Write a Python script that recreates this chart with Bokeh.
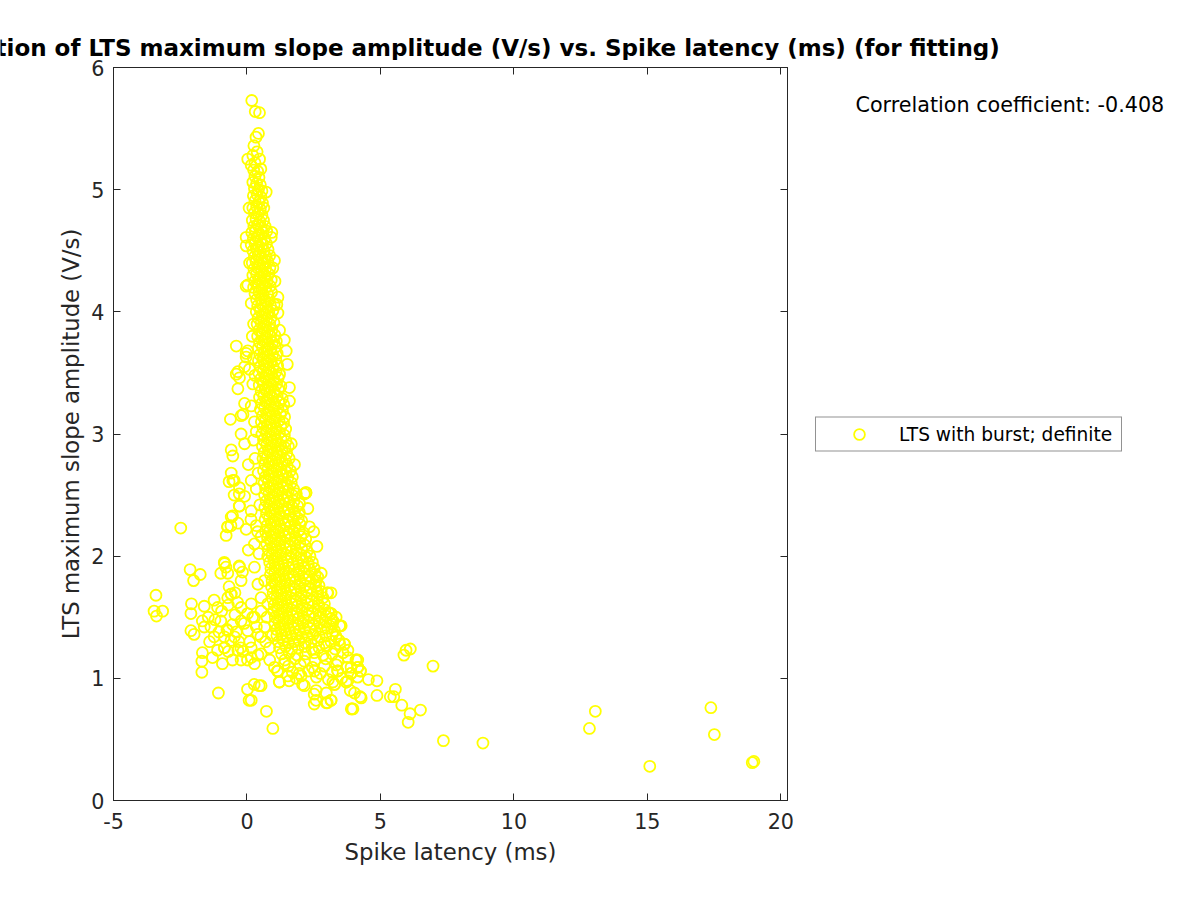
from bokeh.plotting import figure
from bokeh.layouts import column, row
from bokeh.models import (Range1d, LinearAxis, FixedTicker, Label, Legend, LegendItem,
                          ColumnDataSource)
from bokeh.embed import file_html
from bokeh.resources import INLINE

title_text = "Correlation of LTS maximum slope amplitude (V/s) vs. Spike latency (ms) (for fitting)"
x_label = "Spike latency (ms)"
y_label = "LTS maximum slope amplitude (V/s)"
series_name = "LTS with burst; definite"
corr_text = "Correlation coefficient: -0.408"
x_ticks = [-5, 0, 5, 10, 15, 20]
x_tick_labels = {-5: "-5", 0: "0", 5: "5", 10: "10", 15: "15", 20: "20"}
y_ticks = [0, 1, 2, 3, 4, 5, 6]

# (spike latency ms, LTS max slope V/s)
ridge_top = [
    (0.18, 5.73), (0.31, 5.64), (0.47, 5.63), (0.43, 5.46), (0.34, 5.43), (0.26, 5.36),
    (0.03, 5.25), (0.47, 5.25), (0.16, 5.20), (0.30, 5.22), (0.38, 5.31), (0.22, 5.28),
]

ridge_upper = [
    (0.25, 5.16), (0.40, 5.15), (0.52, 5.17),
    (0.30, 5.11), (0.45, 5.10),
    (0.22, 5.06), (0.36, 5.05), (0.50, 5.04),
    (0.28, 5.01), (0.43, 5.00), (0.56, 4.99),
    (0.24, 4.95), (0.38, 4.96), (0.52, 4.94),
    (0.30, 4.91), (0.45, 4.90), (0.58, 4.89),
    (0.22, 4.85), (0.36, 4.86), (0.50, 4.84), (0.63, 4.85),
    (0.28, 4.81), (0.42, 4.80), (0.56, 4.79),
    (0.20, 4.75), (0.34, 4.76), (0.48, 4.74), (0.62, 4.75),
    (0.26, 4.70), (0.40, 4.71), (0.54, 4.69), (0.68, 4.70),
    (0.18, 4.65), (0.32, 4.66), (0.46, 4.64), (0.60, 4.65), (0.74, 4.66),
    (0.24, 4.60), (0.38, 4.61), (0.52, 4.59), (0.67, 4.60),
    (0.16, 4.55), (0.30, 4.56), (0.44, 4.54), (0.58, 4.55), (0.73, 4.56),
    (0.22, 4.50), (0.36, 4.51), (0.50, 4.49), (0.64, 4.50), (0.79, 4.51),
    (0.28, 4.45), (0.42, 4.46), (0.56, 4.44), (0.71, 4.45), (0.85, 4.46),
    (0.20, 4.40), (0.34, 4.41), (0.48, 4.39), (0.63, 4.40), (0.78, 4.41),
    (0.26, 4.35), (0.40, 4.36), (0.55, 4.34), (0.70, 4.35), (0.86, 4.36),
    (0.22, 4.30), (0.36, 4.31), (0.51, 4.29), (0.66, 4.30), (0.82, 4.31),
    (0.29, 4.25), (0.44, 4.26), (0.59, 4.24), (0.75, 4.25), (0.91, 4.26),
    (0.25, 4.20), (0.40, 4.21), (0.55, 4.19), (0.71, 4.20), (0.87, 4.21),
]

upper_halo = [
    (0.93, 4.65), (0.91, 4.61), (1.03, 4.42), (0.97, 4.36), (1.16, 4.12), (1.16, 3.99),
    (-0.03, 4.61), (-0.03, 4.54), (-0.03, 4.21), (0.16, 4.07), (0.03, 4.22), (0.08, 4.85),
    (0.72, 4.98), (0.10, 4.40), (1.05, 4.25),
]

ridge_mid = [
    (0.30, 4.15), (0.45, 4.16), (0.61, 4.14), (0.77, 4.15), (0.92, 4.16),
    (0.36, 4.10), (0.52, 4.11), (0.68, 4.09), (0.84, 4.10),
    (0.40, 4.05), (0.55, 4.06), (0.71, 4.04), (0.88, 4.05), (1.02, 4.06),
    (0.35, 4.00), (0.50, 4.01), (0.66, 3.99), (0.82, 4.00), (0.97, 4.01),
    (0.42, 3.95), (0.58, 3.96), (0.74, 3.94), (0.90, 3.95),
    (0.38, 3.90), (0.53, 3.91), (0.69, 3.89), (0.85, 3.90), (1.01, 3.91),
    (0.45, 3.85), (0.61, 3.86), (0.77, 3.84), (0.93, 3.85),
    (0.40, 3.80), (0.56, 3.81), (0.72, 3.79), (0.88, 3.80), (1.04, 3.81),
    (0.47, 3.75), (0.63, 3.76), (0.79, 3.74), (0.95, 3.75), (1.10, 3.76),
    (0.42, 3.70), (0.58, 3.71), (0.74, 3.69), (0.90, 3.70), (1.06, 3.71),
    (0.48, 3.65), (0.64, 3.66), (0.80, 3.64), (0.96, 3.65), (1.13, 3.66),
    (0.43, 3.60), (0.59, 3.61), (0.75, 3.59), (0.91, 3.60), (1.08, 3.61),
    (0.50, 3.55), (0.66, 3.56), (0.82, 3.54), (0.98, 3.55), (1.15, 3.56),
    (0.44, 3.50), (0.60, 3.51), (0.76, 3.49), (0.92, 3.50), (1.09, 3.51), (1.22, 3.49),
    (0.51, 3.45), (0.67, 3.46), (0.83, 3.44), (1.00, 3.45), (1.17, 3.46),
    (0.46, 3.40), (0.62, 3.41), (0.78, 3.39), (0.94, 3.40), (1.11, 3.41), (1.27, 3.39),
    (0.53, 3.35), (0.69, 3.36), (0.85, 3.34), (1.02, 3.35), (1.19, 3.36),
    (0.47, 3.30), (0.63, 3.31), (0.79, 3.29), (0.96, 3.30), (1.13, 3.31), (1.32, 3.29),
    (0.55, 3.25), (0.71, 3.26), (0.87, 3.24), (1.04, 3.25), (1.22, 3.26), (1.38, 3.24),
    (0.50, 3.20), (0.66, 3.21), (0.82, 3.19), (0.99, 3.20), (1.16, 3.21), (1.33, 3.19),
    (0.58, 3.15), (0.74, 3.16), (0.90, 3.14), (1.07, 3.15), (1.25, 3.16), (1.41, 3.14),
    (0.54, 3.10), (0.70, 3.11), (0.86, 3.09), (1.03, 3.10), (1.20, 3.11), (1.37, 3.09),
    (0.60, 3.05), (0.76, 3.06), (0.92, 3.04), (1.09, 3.05), (1.27, 3.06), (1.45, 3.04),
    (0.56, 3.00), (0.72, 3.01), (0.88, 2.99), (1.05, 3.00), (1.22, 3.01), (1.40, 2.99),
]

mid_halo = [
    (1.12, 4.06), (1.22, 3.85), (1.40, 3.77), (1.47, 3.68), (1.51, 3.57), (1.59, 3.38),
    (1.59, 3.27), (-0.40, 3.72), (-0.03, 3.66), (-0.34, 3.51), (-0.28, 3.46), (-0.34, 3.37),
    (-0.40, 3.49), (0.03, 3.68), (-0.03, 3.63), (-0.09, 3.55), (0.09, 3.53), (0.22, 3.41),
    (-0.09, 3.25), (0.16, 3.23), (-0.15, 3.16), (-0.62, 3.12), (0.25, 3.90), (0.20, 3.80),
    (0.28, 3.10), (0.35, 3.02), (0.24, 3.62), (0.30, 3.48),
]

ridge_low = [
    (0.62, 2.95), (0.78, 2.96), (0.94, 2.94), (1.11, 2.95), (1.28, 2.96), (1.46, 2.94),
    (0.58, 2.90), (0.74, 2.91), (0.90, 2.89), (1.07, 2.90), (1.24, 2.91), (1.42, 2.89), (1.55, 2.90),
    (0.65, 2.85), (0.81, 2.86), (0.97, 2.84), (1.14, 2.85), (1.31, 2.86), (1.49, 2.84),
    (0.60, 2.80), (0.76, 2.81), (0.92, 2.79), (1.09, 2.80), (1.26, 2.81), (1.43, 2.79), (1.58, 2.80),
    (0.67, 2.75), (0.83, 2.76), (0.99, 2.74), (1.16, 2.75), (1.33, 2.76), (1.51, 2.74),
    (0.62, 2.70), (0.78, 2.71), (0.94, 2.69), (1.11, 2.70), (1.28, 2.71), (1.46, 2.69), (1.63, 2.70),
    (0.69, 2.65), (0.85, 2.66), (1.01, 2.64), (1.18, 2.65), (1.35, 2.66), (1.53, 2.64), (1.70, 2.65),
    (0.64, 2.60), (0.80, 2.61), (0.96, 2.59), (1.13, 2.60), (1.30, 2.61), (1.48, 2.59), (1.66, 2.60),
    (0.70, 2.55), (0.86, 2.56), (1.02, 2.54), (1.19, 2.55), (1.37, 2.56), (1.55, 2.54), (1.74, 2.55),
    (0.66, 2.50), (0.82, 2.51), (0.98, 2.49), (1.15, 2.50), (1.32, 2.51), (1.50, 2.49), (1.69, 2.50), (1.85, 2.51),
    (0.72, 2.45), (0.88, 2.46), (1.04, 2.44), (1.21, 2.45), (1.39, 2.46), (1.57, 2.44), (1.76, 2.45),
    (0.67, 2.40), (0.83, 2.41), (0.99, 2.39), (1.16, 2.40), (1.34, 2.41), (1.52, 2.39), (1.71, 2.40), (1.90, 2.41),
    (0.73, 2.35), (0.89, 2.36), (1.05, 2.34), (1.22, 2.35), (1.40, 2.36), (1.59, 2.34), (1.78, 2.35), (1.96, 2.36),
    (0.68, 2.30), (0.84, 2.31), (1.00, 2.29), (1.17, 2.30), (1.35, 2.31), (1.54, 2.29), (1.73, 2.30), (1.92, 2.31), (2.05, 2.29),
    (0.75, 2.25), (0.91, 2.26), (1.07, 2.24), (1.24, 2.25), (1.42, 2.26), (1.61, 2.24), (1.80, 2.25), (2.00, 2.26),
    (0.70, 2.20), (0.86, 2.21), (1.02, 2.19), (1.19, 2.20), (1.37, 2.21), (1.56, 2.19), (1.75, 2.20), (1.94, 2.21), (2.12, 2.19),
    (0.77, 2.15), (0.93, 2.16), (1.09, 2.14), (1.26, 2.15), (1.44, 2.16), (1.63, 2.14), (1.82, 2.15), (2.02, 2.16), (2.20, 2.14),
    (0.74, 2.10), (0.90, 2.11), (1.06, 2.09), (1.23, 2.10), (1.41, 2.11), (1.60, 2.09), (1.79, 2.10), (1.98, 2.11), (2.17, 2.09),
    (0.80, 2.05), (0.96, 2.06), (1.12, 2.04), (1.29, 2.05), (1.47, 2.06), (1.66, 2.04), (1.85, 2.05), (2.05, 2.06), (2.25, 2.04),
    (0.78, 2.00), (0.94, 2.01), (1.10, 1.99), (1.27, 2.00), (1.45, 2.01), (1.64, 1.99), (1.83, 2.00), (2.02, 2.01), (2.21, 1.99), (2.36, 2.00),
]

low_halo = [
    (-0.22, 3.15), (-0.59, 2.87), (-0.53, 2.82), (-0.59, 2.68), (-0.53, 2.62), (-0.22, 3.00),
    (-0.09, 2.92), (-0.28, 2.56), (-0.09, 2.49), (-0.28, 2.41), (-0.59, 2.32), (-0.72, 2.24),
    (-0.34, 2.27), (-0.03, 2.22), (0.16, 2.62), (0.16, 2.37), (1.66, 2.92), (1.78, 2.75),
    (2.15, 2.51), (1.97, 2.43), (2.28, 2.39), (2.34, 2.24), (0.30, 2.80), (0.35, 2.55),
    (0.25, 2.95), (0.40, 2.20), (0.05, 2.75), (-0.73, 2.24), (-0.54, 2.33), (-0.60, 2.25),
    (-0.29, 2.41), (-0.48, 2.50), (-0.29, 2.51), (-0.67, 2.61), (-0.48, 2.62), (2.21, 2.52),
    (0.28, 2.10), (0.53, 2.16), (-0.78, 2.17), (0.05, 2.05), (0.35, 2.25), (0.15, 2.30),
    (0.45, 2.02), (2.62, 2.08), (2.50, 2.20), (0.42, 2.68), (0.48, 2.42),
]

ridge_base = [
    (0.85, 1.95), (1.01, 1.96), (1.17, 1.94), (1.34, 1.95), (1.52, 1.96), (1.71, 1.94), (1.90, 1.95), (2.10, 1.96), (2.30, 1.94), (2.45, 1.95),
    (0.90, 1.90), (1.06, 1.91), (1.22, 1.89), (1.39, 1.90), (1.57, 1.91), (1.76, 1.89), (1.95, 1.90), (2.15, 1.91), (2.35, 1.89), (2.52, 1.90),
    (0.88, 1.85), (1.04, 1.86), (1.20, 1.84), (1.37, 1.85), (1.55, 1.86), (1.74, 1.84), (1.93, 1.85), (2.13, 1.86), (2.33, 1.84), (2.55, 1.85),
    (0.94, 1.80), (1.10, 1.81), (1.26, 1.79), (1.43, 1.80), (1.61, 1.81), (1.80, 1.79), (1.99, 1.80), (2.19, 1.81), (2.40, 1.79), (2.60, 1.80),
    (0.92, 1.75), (1.08, 1.76), (1.24, 1.74), (1.41, 1.75), (1.59, 1.76), (1.78, 1.74), (1.97, 1.75), (2.17, 1.76), (2.38, 1.74), (2.58, 1.75), (2.70, 1.76),
    (0.98, 1.70), (1.14, 1.71), (1.30, 1.69), (1.47, 1.70), (1.65, 1.71), (1.84, 1.69), (2.03, 1.70), (2.23, 1.71), (2.44, 1.69), (2.65, 1.70), (2.78, 1.71),
    (0.96, 1.65), (1.12, 1.66), (1.28, 1.64), (1.45, 1.65), (1.63, 1.66), (1.82, 1.64), (2.01, 1.65), (2.21, 1.66), (2.42, 1.64), (2.63, 1.65), (2.85, 1.66),
    (1.02, 1.60), (1.18, 1.61), (1.34, 1.59), (1.51, 1.60), (1.69, 1.61), (1.88, 1.59), (2.07, 1.60), (2.27, 1.61), (2.48, 1.59), (2.69, 1.60), (2.90, 1.61),
    (1.00, 1.55), (1.16, 1.56), (1.32, 1.54), (1.49, 1.55), (1.67, 1.56), (1.86, 1.54), (2.05, 1.55), (2.25, 1.56), (2.46, 1.54), (2.68, 1.55), (2.92, 1.56), (3.05, 1.54),
    (1.06, 1.50), (1.22, 1.51), (1.38, 1.49), (1.55, 1.50), (1.73, 1.51), (1.92, 1.49), (2.11, 1.50), (2.31, 1.51), (2.52, 1.49), (2.74, 1.50), (2.97, 1.51), (3.15, 1.49),
    (1.04, 1.45), (1.20, 1.46), (1.36, 1.44), (1.53, 1.45), (1.71, 1.46), (1.90, 1.44), (2.09, 1.45), (2.29, 1.46), (2.50, 1.44), (2.72, 1.45), (2.95, 1.46), (3.20, 1.44),
    (1.10, 1.40), (1.26, 1.41), (1.42, 1.39), (1.59, 1.40), (1.77, 1.41), (1.96, 1.39), (2.15, 1.40), (2.35, 1.41), (2.56, 1.39), (2.78, 1.40), (3.02, 1.41), (3.28, 1.39),
    (1.12, 1.35), (1.30, 1.36), (1.48, 1.34), (1.66, 1.35), (1.85, 1.36), (2.05, 1.34), (2.26, 1.35), (2.48, 1.36), (2.71, 1.34), (2.95, 1.35), (3.20, 1.36),
    (1.18, 1.30), (1.36, 1.31), (1.55, 1.29), (1.75, 1.30), (1.96, 1.31), (2.18, 1.29), (2.41, 1.30), (2.65, 1.31), (2.90, 1.29), (3.15, 1.30), (3.45, 1.31),
    (1.22, 1.25), (1.45, 1.26), (1.68, 1.24), (1.92, 1.25), (2.17, 1.26), (2.43, 1.24), (2.70, 1.25), (2.98, 1.26), (3.30, 1.24),
    (1.30, 1.20), (1.58, 1.21), (1.88, 1.19), (2.20, 1.20), (2.52, 1.21), (2.85, 1.19), (3.20, 1.20), (3.60, 1.21),
    (1.42, 1.15), (1.80, 1.16), (2.15, 1.14), (2.55, 1.15), (2.95, 1.16), (3.40, 1.14),
    (1.55, 1.10), (2.00, 1.11), (2.45, 1.09), (2.90, 1.10), (3.35, 1.11), (3.75, 1.09),
    (1.70, 1.05), (2.30, 1.06), (2.75, 1.04), (3.20, 1.05),
    (1.85, 1.00), (2.60, 1.01), (3.05, 0.99), (3.55, 1.00),
]

base_halo = [
    (2.78, 1.86), (2.65, 1.83), (3.03, 1.70), (3.15, 1.70), (3.34, 1.50), (3.53, 1.43),
    (3.47, 1.43), (3.15, 1.53), (3.22, 1.47), (3.34, 1.34), (3.65, 1.28), (3.78, 1.23),
    (3.47, 1.28), (3.78, 1.17), (4.15, 1.15), (4.09, 1.15), (3.90, 1.09), (4.15, 1.09),
    (4.25, 1.06), (3.40, 1.06), (3.72, 0.97), (3.28, 0.95), (3.90, 1.04), (3.15, 0.82),
    (0.41, 1.19), (1.16, 1.06), (1.53, 1.02), (0.53, 0.94), (1.22, 0.97), (2.03, 1.02),
    (2.53, 1.06), (2.15, 0.94), (2.59, 0.90), (2.97, 0.88), (2.59, 0.82), (2.97, 0.80),
    (3.22, 0.97), (3.78, 0.98), (4.15, 1.01), (4.28, 0.84), (3.97, 0.75), (0.16, 0.82),
    (0.16, 1.17), (0.66, 1.80), (0.41, 1.77), (0.28, 1.91), (0.53, 1.66), (0.78, 1.61),
    (0.53, 1.55), (0.66, 1.42), (0.41, 1.36), (0.53, 1.20), (1.03, 1.09), (1.40, 1.12),
    (0.28, 1.12), (0.85, 1.25), (0.75, 1.50), (0.95, 1.35), (0.70, 1.30), (0.85, 1.15),
]

left_cloud = [
    (-2.48, 2.23), (-3.41, 1.68), (-3.48, 1.55), (-3.39, 1.51), (-3.16, 1.55), (-2.13, 1.89),
    (-1.75, 1.85), (-2.00, 1.80), (-2.08, 1.61), (-1.60, 1.59), (-2.10, 1.53), (-2.10, 1.39),
    (-1.98, 1.36), (-1.67, 1.47), (-1.67, 1.21), (-1.69, 1.14), (-1.69, 1.05), (-1.29, 1.17),
    (-1.07, 0.88), (-1.23, 1.64), (-1.10, 1.58), (-0.85, 1.95), (-0.79, 1.91), (-0.98, 1.86),
    (-0.67, 1.75), (-0.60, 1.69), (-0.29, 1.92), (-0.17, 1.87), (-0.84, 1.94), (-0.72, 1.86),
    (-0.28, 1.91), (-0.22, 1.80), (-0.59, 1.69), (-0.72, 1.66), (-0.22, 1.58), (0.16, 1.61),
    (-0.22, 1.47), (0.28, 1.50), (-0.72, 1.39), (-0.47, 1.34), (0.03, 1.39), (-0.84, 1.25),
    (-0.34, 1.23), (0.16, 1.25), (-0.22, 1.15), (0.02, 1.53), (0.21, 1.50), (-0.23, 1.25),
    (0.02, 1.15), (0.52, 1.34), (-0.85, 1.34), (-0.60, 1.31), (-1.23, 1.34), (-1.60, 1.42),
    (-0.98, 1.47), (-0.54, 1.44), (-0.92, 1.12), (-0.54, 1.15), (-0.85, 1.25), (-1.10, 1.23),
    (-1.45, 1.50), (-1.35, 1.42), (-1.05, 1.38), (-0.75, 1.40), (-0.40, 1.38), (-0.10, 1.45),
    (0.35, 1.42), (-0.95, 1.55), (-0.45, 1.52), (-0.70, 1.60), (-1.40, 1.30), (-1.20, 1.48),
    (-0.30, 1.30), (0.10, 1.30), (-0.15, 1.22), (-0.70, 1.22), (-0.45, 1.70), (-0.35, 1.62),
    (0.02, 0.91), (0.27, 0.95), (0.46, 0.94), (0.08, 0.82), (0.73, 0.73), (0.97, 0.59),
    (1.14, 1.06), (1.21, 0.97), (1.58, 0.98), (1.96, 1.04), (2.08, 0.95), (2.52, 0.79),
    (3.01, 0.80), (2.52, 0.87), (3.91, 0.75), (3.01, 1.70), (2.21, 2.52),
]

right_tail = [
    (3.49, 1.43), (4.09, 1.15), (4.15, 1.09), (4.25, 1.06), (3.93, 0.75), (4.24, 0.85),
    (4.03, 0.88), (3.87, 0.90), (4.87, 0.98), (4.55, 0.99), (4.87, 0.86), (5.37, 0.85),
    (5.50, 0.85), (5.56, 0.91), (5.80, 0.78), (6.11, 0.71), (6.04, 0.64), (6.50, 0.74),
    (5.88, 1.19), (5.96, 1.23), (6.12, 1.24), (6.97, 1.10), (7.36, 0.49), (8.84, 0.47),
    (12.83, 0.59), (13.05, 0.73), (15.09, 0.28), (17.38, 0.76), (17.51, 0.54),
    (18.93, 0.31), (18.99, 0.32), (3.40, 1.06), (3.72, 0.97), (3.28, 0.95), (3.90, 1.04),
    (3.15, 0.82), (3.65, 1.28), (3.34, 1.34), (3.15, 1.53), (3.22, 1.47),
]

points = (ridge_top + ridge_upper + upper_halo + ridge_mid + mid_halo + ridge_low
          + low_halo + ridge_base + base_halo + left_cloud + right_tail)
latency = [pt[0] for pt in points]
amplitude = [pt[1] for pt in points]

INK = "#262626"
FONT = "DejaVu Sans"
YELLOW = "#ffff00"

PAGE_W, PAGE_H = 1200, 900
TITLE_H = 60          # height of the title strip
OVERLAP = 8           # the axes row is pulled up under the (transparent) title strip
ROW_TOP = TITLE_H - OVERLAP
ROW_H = PAGE_H - ROW_TOP
FRAME_TOP, FRAME_BOTTOM = 67, 800
MAIN_W = 800

# ---------- title strip: title centred over the axes (x=450), clipped at the page edge ----------
title_fig = figure(width=PAGE_W, height=TITLE_H, output_backend="svg", toolbar_location=None,
                   x_range=Range1d(0, PAGE_W), y_range=Range1d(0, TITLE_H),
                   x_axis_type=None, y_axis_type=None, min_border=0,
                   background_fill_alpha=0, border_fill_alpha=0)
title_fig.outline_line_color = None
title_fig.grid.visible = False
title_fig.add_layout(Label(x=450, y=TITLE_H - 47, text=title_text, text_align="center",
                           text_baseline="middle", text_font=FONT, text_font_size="23px",
                           text_font_style="bold", text_color="black"))

# ---------- main axes ----------
p = figure(width=MAIN_W, height=ROW_H, output_backend="svg", toolbar_location=None,
           x_range=Range1d(-5, 20.25), y_range=Range1d(0, 6),
           min_border_left=113, min_border_right=MAIN_W - 787,
           min_border_top=FRAME_TOP - ROW_TOP, min_border_bottom=PAGE_H - FRAME_BOTTOM,
           background_fill_color="white", border_fill_alpha=0)
p.xgrid.visible = False
p.ygrid.visible = False
p.outline_line_color = INK
p.outline_line_width = 1


def style_axis(ax, ticks, show_labels):
    ax.ticker = FixedTicker(ticks=ticks)
    ax.axis_line_color = INK
    ax.axis_line_width = 1
    ax.major_tick_line_color = INK
    ax.major_tick_in = 7
    ax.major_tick_out = 0
    ax.minor_tick_line_color = None
    ax.major_label_text_font = FONT
    if show_labels:
        ax.major_label_text_color = INK
        ax.major_label_text_font_size = "20.7px"
    else:
        ax.major_label_text_color = None
        ax.major_label_text_font_size = "1px"
        ax.major_label_standoff = 0


style_axis(p.xaxis[0], x_ticks, True)
style_axis(p.yaxis[0], y_ticks, True)
p.xaxis[0].major_label_overrides = x_tick_labels
p.xaxis[0].major_label_standoff = 12
p.yaxis[0].major_label_standoff = 9
p.xaxis[0].axis_label = x_label
p.yaxis[0].axis_label = y_label
for ax in (p.xaxis[0], p.yaxis[0]):
    ax.axis_label_text_font = FONT
    ax.axis_label_text_font_size = "22.8px"
    ax.axis_label_text_font_style = "normal"
    ax.axis_label_text_color = INK
p.xaxis[0].axis_label_standoff = 7
p.yaxis[0].axis_label_standoff = 4

top_axis = LinearAxis()
style_axis(top_axis, x_ticks, False)
p.add_layout(top_axis, "above")
right_axis = LinearAxis()
style_axis(right_axis, y_ticks, False)
p.add_layout(right_axis, "right")

source = ColumnDataSource(data=dict(latency=latency, amplitude=amplitude))
r = p.scatter(x="latency", y="amplitude", source=source, marker="circle", size=11,
              fill_color=None, line_color=YELLOW, line_width=1.8)

# ---------- side area (same vertical frame as the axes): correlation note + legend ----------
SIDE_W = PAGE_W - MAIN_W
side = figure(width=SIDE_W, height=ROW_H, output_backend="svg", toolbar_location=None,
              x_range=Range1d(0, SIDE_W), y_range=Range1d(0, FRAME_BOTTOM - FRAME_TOP),
              x_axis_type=None, y_axis_type=None,
              min_border_left=0, min_border_right=0,
              min_border_top=FRAME_TOP - ROW_TOP, min_border_bottom=PAGE_H - FRAME_BOTTOM,
              background_fill_alpha=0, border_fill_alpha=0)
side.outline_line_color = None
side.grid.visible = False
side.add_layout(Label(x=855 - MAIN_W, y=FRAME_BOTTOM - 104, text=corr_text, text_align="left",
                      text_baseline="middle", text_font=FONT, text_font_size="20.7px",
                      text_color="black"))
key = side.scatter(x="latency", y="amplitude", source=source, marker="circle", size=11,
                   fill_color=None, line_color=YELLOW, line_width=1.8, visible=False)
legend = Legend(items=[LegendItem(label=series_name, renderers=[key])],
                location="center_left", padding=3, margin=815 - MAIN_W, spacing=0,
                glyph_width=80, glyph_height=27, label_standoff=0, label_height=27,
                label_width=219,
                label_text_font=FONT, label_text_font_size="18.6px", label_text_color="black",
                border_line_color=INK, border_line_width=1, background_fill_color="white",
                background_fill_alpha=1, inactive_fill_alpha=0)
side.add_layout(legend)

axes_row = row(p, side, spacing=0, margin=(-OVERLAP, 0, 0, 0))
layout = column(title_fig, axes_row, spacing=0)
open("out.html", "w").write(file_html(layout, INLINE))
